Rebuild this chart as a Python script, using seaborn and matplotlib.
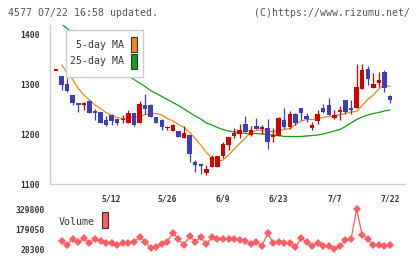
import numpy as np
import pandas as pd
import matplotlib
matplotlib.use("Agg")
import matplotlib.pyplot as plt
import seaborn as sns
from matplotlib.patches import Rectangle

# ---------------- data ----------------
dates = ["4/23", "4/24", "4/25", "4/28", "4/30", "5/1", "5/2", "5/7", "5/8", "5/9",
         "5/12", "5/13", "5/14", "5/15", "5/16", "5/19", "5/20", "5/21", "5/22", "5/23",
         "5/26", "5/27", "5/28", "5/29", "5/30", "6/2", "6/3", "6/4", "6/5", "6/6",
         "6/9", "6/10", "6/11", "6/12", "6/13", "6/16", "6/17", "6/18", "6/19", "6/20",
         "6/23", "6/24", "6/25", "6/26", "6/27", "6/30", "7/1", "7/2", "7/3", "7/4",
         "7/7", "7/8", "7/9", "7/10", "7/11", "7/14", "7/15", "7/16", "7/17", "7/18",
         "7/22"]
tick_labels = ["5/12", "5/26", "6/9", "6/23", "7/7", "7/22"]

opens = [1328, 1316, 1300, 1278, 1261, 1259, 1266, 1247, 1245, 1229,
         1239, 1231, 1228, 1223, 1243, 1223, 1259, 1259, 1235, 1228,
         1212, 1207, 1206, 1193, 1198, 1145, 1140, 1123, 1135, 1135,
         1156, 1178, 1197, 1201, 1220, 1198, 1217, 1211, 1213, 1195,
         1197, 1228, 1215, 1240, 1253, 1236, 1213, 1227, 1253, 1258,
         1233, 1244, 1268, 1252, 1253, 1290, 1330, 1293, 1303, 1325,
         1276]
highs = [1328, 1316, 1313, 1278, 1261, 1265, 1268, 1251, 1245, 1236,
         1241, 1231, 1238, 1248, 1243, 1266, 1280, 1261, 1235, 1230,
         1216, 1221, 1206, 1216, 1198, 1149, 1140, 1138, 1158, 1156,
         1185, 1195, 1213, 1220, 1236, 1216, 1232, 1219, 1230, 1213,
         1234, 1253, 1246, 1243, 1253, 1243, 1225, 1248, 1261, 1273,
         1249, 1256, 1268, 1268, 1340, 1340, 1336, 1323, 1325, 1328,
         1278]
lows = [1328, 1288, 1285, 1259, 1245, 1248, 1243, 1229, 1223, 1216,
        1218, 1219, 1223, 1223, 1216, 1223, 1241, 1235, 1223, 1208,
        1208, 1207, 1195, 1193, 1145, 1125, 1121, 1119, 1135, 1135,
        1153, 1168, 1193, 1193, 1205, 1196, 1210, 1201, 1170, 1185,
        1197, 1211, 1211, 1219, 1228, 1225, 1208, 1221, 1243, 1239,
        1230, 1229, 1240, 1240, 1253, 1290, 1298, 1293, 1295, 1285,
        1263]
closes = [1328, 1298, 1287, 1263, 1259, 1261, 1243, 1243, 1223, 1218,
          1227, 1223, 1230, 1243, 1219, 1261, 1251, 1235, 1223, 1215,
          1214, 1218, 1195, 1203, 1161, 1139, 1137, 1130, 1155, 1156,
          1181, 1195, 1203, 1208, 1205, 1208, 1210, 1215, 1185, 1198,
          1233, 1215, 1240, 1223, 1243, 1230, 1218, 1240, 1245, 1239,
          1238, 1248, 1245, 1249, 1294, 1328, 1310, 1300, 1308, 1293,
          1269]

ma5 = [np.nan, 1338, 1323, 1309, 1291, 1278, 1268, 1258, 1251, 1243,
       1237, 1233, 1231, 1231, 1235, 1235, 1239, 1241, 1241, 1238,
       1231, 1226, 1219, 1213, 1203, 1191, 1178, 1163, 1152, 1145,
       1148, 1158, 1170, 1181, 1192, 1203, 1207, 1208, 1207, 1204,
       1207, 1209, 1211, 1218, 1226, 1229, 1229, 1231, 1233, 1235,
       1236, 1239, 1241, 1244, 1245, 1257, 1269, 1278, 1290, 1299,
       1295]
ma25 = [np.nan, 1420, 1411, 1402, 1394, 1385, 1377, 1368, 1360, 1351,
        1343, 1334, 1326, 1317, 1309, 1302, 1295, 1287, 1281, 1275,
        1269, 1263, 1257, 1250, 1243, 1236, 1230, 1222, 1218, 1213,
        1209, 1206, 1204, 1203, 1201, 1201, 1201, 1200, 1199, 1198,
        1197, 1195, 1195, 1195, 1195, 1196, 1197, 1198, 1200, 1203,
        1206, 1209, 1215, 1222, 1229, 1234, 1238, 1241, 1243, 1246,
        1248]
volume = [np.nan, 91000, 61000, 104000, 81000, 111000, 78000, 104000, 91000, 78000,
          73000, 61000, 73000, 78000, 86000, 119000, 86000, 36000, 48000, 66000,
          86000, 153000, 104000, 61000, 129000, 86000, 119000, 66000, 119000, 104000,
          104000, 104000, 104000, 98000, 93000, 66000, 81000, 53000, 149000, 78000,
          81000, 78000, 78000, 43000, 111000, 86000, 53000, 78000, 53000, 53000,
          28300, 53000, 98000, 104000, 329800, 136000, 106000, 61000, 61000, 55000,
          61000]
vol_ticks = [28300, 179050, 329800]
price_ticks = [1100, 1200, 1300, 1400]

# ---------------- style ----------------
W, H = 420, 259
sns.set_style("white")
plt.rcParams["font.family"] = ["DejaVu Sans Mono", "DejaVu Sans"]

RED = "#d40000"
BLUE = "#3c3cbe"
ORANGE = "#f08a10"
GREEN = "#10a010"
VOLC = "#ff5c64"
GRAY = "#cccccc"
TXT = "#333333"

def fx(x):
    return x / W

def fy(y):
    return 1 - y / H

fig = plt.figure(figsize=(W / 100, H / 100), dpi=100)
ax = fig.add_axes([fx(50), fy(184), fx(405) - fx(50), fy(25) - fy(184)])
axv = fig.add_axes([fx(50), fy(253), fx(405) - fx(50), fy(205) - fy(253)])

df = pd.DataFrame({"date": dates, "open": opens, "high": highs, "low": lows,
                   "close": closes, "ma5": ma5, "ma25": ma25, "volume": volume})
df["i"] = np.arange(len(df))
up = df["close"] >= df["open"]
colors = np.where(up, RED, BLUE)

xlim = (-1.08, 62.69)

# candles
ax.vlines(df["i"], df["low"], df["high"], colors=colors, lw=0.9, zorder=3)
body_bottom = np.minimum(df["open"], df["close"])
body_h = np.maximum(np.abs(df["close"] - df["open"]), 2.6)
ax.bar(df["i"], body_h, bottom=body_bottom - (body_h - np.abs(df["close"] - df["open"])) / 2,
       width=0.8, color=colors, lw=0, zorder=4)

# moving averages
sns.lineplot(data=df, x="i", y="ma5", ax=ax, color=ORANGE, lw=0.9, zorder=2)
sns.lineplot(data=df, x="i", y="ma25", ax=ax, color=GREEN, lw=0.9, zorder=2)

ax.set_xlim(*xlim)
ax.set_ylim(1100, 1418)
ax.set_xlabel("")
ax.set_ylabel("")
for s in ["top", "right"]:
    ax.spines[s].set_visible(False)
for s in ["left", "bottom"]:
    ax.spines[s].set_color(GRAY)
    ax.spines[s].set_linewidth(1.0)
ax.set_yticks(price_ticks)
ax.set_yticklabels([str(v) for v in price_ticks])
ax.tick_params(axis="y", direction="inout", length=6, width=1, color=GRAY,
               labelsize=5.8, labelcolor=TXT, pad=4.3)
for t in ax.get_yticklabels():
    t.set_fontweight("bold")
tpos = [dates.index(t) for t in tick_labels]
ax.set_xticks(tpos)
ax.set_xticklabels(tick_labels)
ax.set_xticks(np.linspace(xlim[0], xlim[1], 12), minor=True)
ax.tick_params(axis="x", which="major", length=0, labelsize=5.8, labelcolor=TXT, pad=7.5)
ax.tick_params(axis="x", which="minor", direction="inout", length=6, width=1, color=GRAY)
for t in ax.get_xticklabels():
    t.set_fontweight("bold")

# volume
sns.lineplot(data=df, x="i", y="volume", ax=axv, color=VOLC, lw=0.9,
             marker="D", markersize=4.2, markeredgewidth=0, markerfacecolor=VOLC)
axv.set_xlim(*xlim)
axv.set_ylim(411, 362211)
axv.set_xlabel("")
axv.set_ylabel("")
for s in axv.spines.values():
    s.set_visible(False)
axv.set_xticks([])
axv.set_yticks(vol_ticks)
axv.set_yticklabels([str(v) for v in vol_ticks])
axv.tick_params(axis="y", length=0, labelsize=5.8, labelcolor=TXT, pad=4.0)
for t in axv.get_yticklabels():
    t.set_fontweight("bold")

# legend box for MAs
fig.patches.append(Rectangle((fx(65.7), fy(77.3)), fx(143.3) - fx(65.7), fy(30) - fy(77.3),
                             transform=fig.transFigure, facecolor="white",
                             edgecolor=GRAY, lw=1.0, zorder=5))
for label, col, yc in [("5-day MA", ORANGE, 44.5), ("25-day MA", GREEN, 61.5)]:
    fig.text(fx(124.5), fy(yc), label, ha="right", va="center", fontsize=7.1,
             color=TXT, zorder=6)
    fig.patches.append(Rectangle((fx(131.2), fy(yc + 7.2)), fx(6.0), fy(0) - fy(14.4),
                                 transform=fig.transFigure, facecolor=col,
                                 edgecolor="#333333", lw=0.8, zorder=6))

# volume legend
fig.text(fx(58.3), fy(222), "Volume", ha="left", va="center", fontsize=7.1, color=TXT)
fig.patches.append(Rectangle((fx(101.7), fy(228.3)), fx(6.0), fy(0) - fy(16),
                             transform=fig.transFigure, facecolor=VOLC,
                             edgecolor="#333333", lw=0.8, zorder=6))

# header texts
fig.text(fx(8), fy(12.5), "4577 07/22 16:58 updated.", ha="left", va="center",
         fontsize=7.1, color="#555555")
fig.text(fx(410), fy(12.5), "(C)https://www.rizumu.net/", ha="right", va="center",
         fontsize=7.1, color="#555555")

fig.savefig("out.png", dpi=100)
